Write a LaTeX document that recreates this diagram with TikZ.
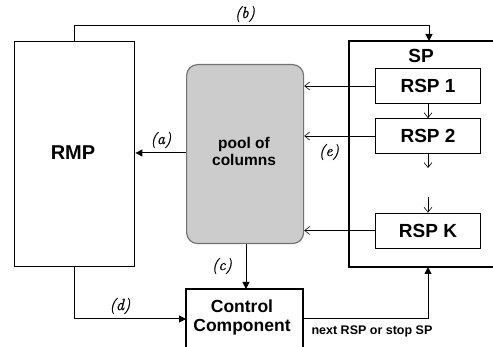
\documentclass[tikz,border=0pt]{standalone}
\usepackage{fontspec}
\setmainfont{Liberation Sans}
\newfontfamily\lblfont[FakeBold=1.2]{Latin Modern Roman}
\usetikzlibrary{arrows.meta}
\begin{document}
\begin{tikzpicture}[x=1pt,y=-1pt,
  thickbox/.style={draw=black,line width=1.4pt},
  thinbox/.style={draw=black,line width=0.7pt,minimum width=105pt,minimum height=35pt,inner sep=0pt,font=\fontsize{19}{21}\selectfont\bfseries},
  bigarrow/.style={line width=1pt,-{Triangle[length=7pt,width=7pt]}},
  smallarrow/.style={line width=0.6pt,-{Straight Barb[length=5pt,width=8pt,line width=0.6pt]}},
  lbl/.style={font=\lblfont\itshape\fontsize{16}{18}\selectfont}
]
\useasboundingbox (0,0) rectangle (493,347);
% RMP
\node[thickbox,minimum width=120pt,minimum height=225pt,inner sep=0pt,anchor=north west] (rmp) at (14,41) {};
\node[font=\fontsize{20}{22}\selectfont\bfseries] (rmpt) at (73,153) {RMP};
% SP (open at right)
\coordinate (sptr) at (493,41);
\coordinate (spbr) at (493,267);
\coordinate (sptl) at (349,41);
\coordinate (spbl) at (349,267);
\draw[line width=1.4pt] (sptr) -- (sptl) -- (spbl) -- (spbr);
\node[font=\fontsize{19}{21}\selectfont\bfseries] (spt) at (421,56) {SP};
% RSP boxes
\node[thinbox] (r1) at (428,86) {RSP 1};
\node[thinbox] (r2) at (428,136) {RSP 2};
\node[thinbox] (rk) at (428,230.5) {RSP K};
\coordinate (r2e) at (428,168);
\coordinate (rks) at (428,197);
% pool
\node[draw=black!55,line width=1.2pt,fill=black!20,rounded corners=11pt,minimum width=117pt,minimum height=179pt,inner sep=0pt,anchor=north west] (pool) at (186,64) {};
\node[font=\fontsize{15.5}{17}\selectfont\bfseries,align=center] (poolt) at (244,151) {pool of\\columns};
% Control component (open at bottom)
\coordinate (ccbl) at (186,349);
\coordinate (cctl) at (186,289);
\coordinate (cctr) at (303,289);
\coordinate (ccbr) at (303,349);
\draw[line width=1.4pt] (ccbl) -- (cctl) -- (cctr) -- (ccbr);
\node[font=\fontsize{17.5}{19}\selectfont\bfseries,align=center] (cct) at (242,317.5) {Control\\Component};
% (b)
\coordinate (b1) at (74,26);
\coordinate (b2) at (429,26);
\draw[bigarrow] (74,41) -- (b1) -- (b2) -- (429,41);
\node[lbl] (bl) at (245,14) {(b)};
% (a)
\draw[bigarrow] (pool.west |- 0,153) -- (rmp.east |- 0,153);
\node[lbl] (al) at (161,140) {(a)};
% RSP -> pool
\draw[smallarrow] (r1.west) -- (pool.east |- r1.west);
\draw[smallarrow] (r2.west) -- (pool.east |- r2.west);
\draw[smallarrow] (rk.west) -- (pool.east |- rk.west);
\node[lbl] (el) at (329,152) {(e)};
% chain
\draw[smallarrow] (r1.south) -- (r2.north);
\draw[smallarrow] (r2.south) -- (r2e);
\draw[smallarrow] (rks) -- (rk.north);
% (c)
\draw[bigarrow] (pool.south -| 246,0) -- (246,289);
\node[lbl] (cl) at (222,266) {(c)};
% (d)
\coordinate (d1) at (74,319);
\draw[bigarrow] (74,266) -- (d1) -- (186,319);
\node[lbl] (dl) at (120,306) {(d)};
% next RSP
\coordinate (n1) at (428,319);
\draw[bigarrow] (303,319) -- (n1) -- (428,267);
\node[font=\fontsize{12.5}{14}\selectfont\bfseries] (nl) at (372,331) {next RSP or stop SP};
\end{tikzpicture}
\end{document}
